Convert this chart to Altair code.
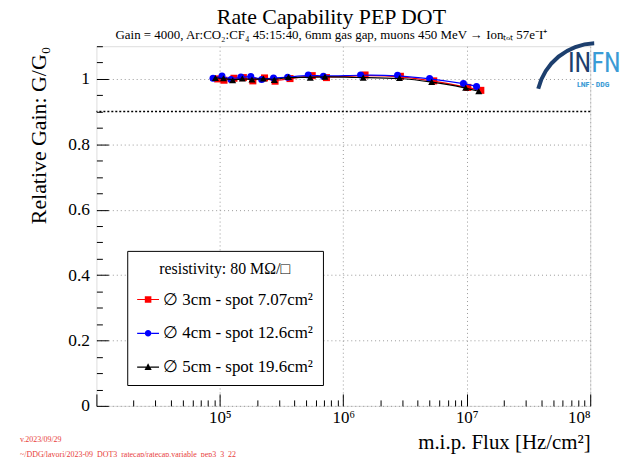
import altair as alt
import pandas as pd

# ---------------- data ----------------
SERIES = ["∅ 3cm - spot 7.07cm²", "∅ 4cm - spot 12.6cm²", "∅ 5cm - spot 19.6cm²"]
COLORS = ["#ff0000", "#0000ff", "#000000"]
SHAPES = ["square", "circle", "triangle-up"]

FLUX_3CM = [9.6e4, 1.08e5, 1.30e5, 1.55e5, 1.85e5, 2.30e5, 2.80e5, 3.70e5, 5.6e5, 7.3e5, 1.50e6, 2.90e6, 5.4e6, 1.02e7, 1.30e7]
GAIN_3CM = [1.000, 0.996, 1.002, 1.004, 0.994, 1.003, 0.993, 1.001, 1.010, 1.004, 1.012, 1.008, 0.994, 0.974, 0.965]

FLUX_4CM = [8.8e4, 1.04e5, 1.23e5, 1.48e5, 1.78e5, 2.18e5, 2.72e5, 3.54e5, 5.2e5, 6.9e5, 1.38e6, 2.75e6, 5.0e6, 9.4e6, 1.20e7]
GAIN_4CM = [1.002, 1.009, 0.998, 1.006, 1.007, 0.998, 1.003, 1.005, 1.012, 1.008, 1.012, 1.011, 1.001, 0.986, 0.977]

FLUX_5CM = [9.2e4, 1.07e5, 1.27e5, 1.52e5, 1.82e5, 2.25e5, 2.76e5, 3.60e5, 5.4e5, 7.1e5, 1.45e6, 2.85e6, 5.2e6, 9.8e6, 1.25e7]
GAIN_5CM = [1.003, 1.002, 0.996, 1.001, 0.998, 1.001, 0.997, 1.006, 1.004, 1.007, 1.004, 1.003, 0.991, 0.973, 0.962]

THRESHOLD = [0.9]

X_LABELS = [1e5, 1e6, 1e7, 1e8]
X_TICKS = [m * 10 ** d for d in range(4, 8) for m in range(1, 10)] + [1e8]
Y_LABELS = [0, 0.2, 0.4, 0.6, 0.8, 1.0]
Y_TICKS = [round(i * 0.05, 2) for i in range(0, 23)]

TITLE = "Rate Capability PEP DOT"
SUBTITLE = "Gain = 4000, Ar:CO₂:CF₄ 45:15:40, 6mm gas gap, muons 450 MeV → Ionₜₒₜ 57e⁻I⁺"
X_TITLE = "m.i.p. Flux [Hz/cm²]"
Y_TITLE = "Relative Gain: G/G₀"
LEGEND_TITLE = "resistivity: 80 MΩ/□"
NOTE_1 = ["v.2023/09/29"]
NOTE_2 = ["~/DDG/lavori/2023-09_DOT3_ratecap/ratecap.variable_pep3_3_22"]
LOGO_A = ["IN"]
LOGO_B = ["FN"]
LOGO_C = ["LNF - DDG"]

rows = []
for name, fl, gn in zip(SERIES, [FLUX_3CM, FLUX_4CM, FLUX_5CM], [GAIN_3CM, GAIN_4CM, GAIN_5CM]):
    for f, g in zip(fl, gn):
        rows.append({"series": name, "flux": f, "gain": g})
df = pd.DataFrame(rows)

FONT = "Liberation Serif"
NARROW = "Liberation Sans Narrow, Roboto Condensed, Roboto"
W, H = 497, 362

x_scale = alt.Scale(type="log", domain=[1e4, 1e8], nice=False)
y_scale = alt.Scale(domain=[0, 1.1], nice=False, zero=False)

sup = "['⁰','¹','²','³','⁴','⁵','⁶','⁷','⁸','⁹'][round(log(datum.value)/LN10)]"

x_label_axis = alt.Axis(
    orient="bottom", values=X_LABELS, labelExpr="'10' + " + sup,
    ticks=False, tickSize=0, domain=False, grid=True, gridDash=[1, 3], gridColor="#999999",
    labelFontSize=17, labelPadding=4, labelColor="black", labelFont=FONT,
    title=X_TITLE, titleAnchor="end", titleFontSize=21, titleFontWeight="normal",
    titleFont=FONT, titleColor="black", titlePadding=6,
)
x_tick_axis = alt.Axis(
    orient="top", offset=-H, values=X_TICKS, labels=False, domain=False, grid=False,
    tickColor="black", tickWidth=1,
    tickSize={"condition": {"test": "abs(log(datum.value)/LN10 - round(log(datum.value)/LN10)) < 0.001", "value": 12}, "value": 6},
    title=None,
)
y_label_axis = alt.Axis(
    orient="left", values=Y_LABELS, format="~g",
    ticks=False, tickSize=0, domain=False, grid=True, gridDash=[1, 3], gridColor="#999999",
    labelFontSize=17.5, labelPadding=7, labelColor="black", labelFont=FONT,
    title=Y_TITLE, titleAnchor="end", titleFontSize=22, titleFontWeight="normal",
    titleFont=FONT, titleColor="black", titlePadding=17,
)
y_tick_axis = alt.Axis(
    orient="right", offset=-W, values=Y_TICKS, labels=False, domain=False, grid=False,
    tickColor="black", tickWidth=1,
    tickSize={"condition": {"test": "abs(datum.value*5 - round(datum.value*5)) < 0.001", "value": 12}, "value": 6},
    title=None,
)

# legend symbols: short line with the marker in the middle
PATHS = [
    "M-1,-0.05H-0.3V0.05H-1Z M0.3,-0.05H1V0.05H0.3Z M-0.3,-0.3H0.3V0.3H-0.3Z",
    "M-1,-0.05H-0.3V0.05H-1Z M0.3,-0.05H1V0.05H0.3Z M0.3,0A0.3,0.3,0,1,1,-0.3,0A0.3,0.3,0,1,1,0.3,0Z",
    "M-1,-0.05H-0.19V0.05H-1Z M0.19,-0.05H1V0.05H0.19Z M0,-0.36L0.33,0.26H-0.33Z",
]

legend = alt.Legend(
    title=LEGEND_TITLE, orient="none", legendX=31, legendY=206, direction="vertical",
    padding=10, titlePadding=12, rowPadding=15, symbolSize=484, labelOffset=4,
    labelFontSize=17, labelFont=FONT, labelColor="black", labelLimit=400,
    titleFontSize=16, titleFont=FONT, titleFontWeight="normal", titleColor="black",
    titleAnchor="middle", strokeColor="black", fillColor="white",
    symbolOpacity=1, symbolStrokeWidth=0,
)

base = alt.Chart(df)
layers = []
for i, (name, color, shape) in enumerate(zip(SERIES, COLORS, SHAPES)):
    sub = base.transform_filter(alt.datum.series == name)
    line = sub.mark_line(strokeWidth=1.2, color=color, interpolate="basis").encode(
        x=alt.X("flux:Q", scale=x_scale, axis=x_label_axis if i == 0 else None),
        y=alt.Y("gain:Q", scale=y_scale, axis=y_label_axis if i == 0 else None),
        order="flux:Q",
    )
    pts = sub.mark_point(filled=True, size=50, opacity=1, shape=shape, color=color).encode(
        x=alt.X("flux:Q", scale=x_scale, axis=x_tick_axis if i == 0 else None),
        y=alt.Y("gain:Q", scale=y_scale, axis=y_tick_axis if i == 0 else None),
    )
    layers += [line, pts]

legend_layer = alt.Chart(pd.DataFrame({"series": SERIES})).mark_point(
    filled=True, opacity=0
).encode(
    color=alt.Color("series:N", scale=alt.Scale(domain=SERIES, range=COLORS), legend=legend),
    shape=alt.Shape("series:N", scale=alt.Scale(domain=SERIES, range=PATHS), legend=legend),
)

thr = alt.Chart(pd.DataFrame({"t": THRESHOLD})).mark_rule(
    color="black", strokeDash=[2, 2], strokeWidth=1.5
).encode(y=alt.Y("t:Q", scale=y_scale, axis=None))

note1 = alt.Chart(pd.DataFrame({"t": NOTE_1})).mark_text(
    align="left", baseline="middle", fontSize=8, color="#e8403a", font=FONT
).encode(x=alt.value(-77), y=alt.value(396), text="t:N")
note2 = alt.Chart(pd.DataFrame({"t": NOTE_2})).mark_text(
    align="left", baseline="middle", fontSize=8, color="#e8403a", font=FONT
).encode(x=alt.value(-77), y=alt.value(411), text="t:N")

# logo (decoration)
swoosh = alt.Chart(pd.DataFrame({"t": [1]})).mark_arc(
    theta=4.95, theta2=6.25, innerRadius=58, outerRadius=62, color="#1d3f6e"
).encode(x=alt.value(503), y=alt.value(57))
logo_a = alt.Chart(pd.DataFrame({"t": LOGO_A})).mark_text(
    align="right", baseline="middle", fontSize=27, color="#1d3f6e", font=NARROW
).encode(x=alt.value(498), y=alt.value(18), text="t:N")
logo_b = alt.Chart(pd.DataFrame({"t": LOGO_B})).mark_text(
    align="left", baseline="middle", fontSize=27, color="#3a9bd5", font=NARROW
).encode(x=alt.value(498), y=alt.value(18), text="t:N")
logo_c = alt.Chart(pd.DataFrame({"t": LOGO_C})).mark_text(
    align="center", baseline="middle", fontSize=8, color="#3a9bd5", font=NARROW, fontWeight="bold"
).encode(x=alt.value(500), y=alt.value(39), text="t:N")

chart = alt.layer(thr, *layers, legend_layer, note1, note2, swoosh, logo_a, logo_b, logo_c).properties(
    width=W, height=H,
    title=alt.TitleParams(
        text=TITLE, subtitle=SUBTITLE, font=FONT, subtitleFont=FONT,
        fontSize=22, subtitleFontSize=13, fontWeight="normal", color="black",
        subtitleColor="black", anchor="middle", offset=-2, subtitlePadding=0, dx=-12,
    ),
    autosize=alt.AutoSizeParams(type="none"),
    padding={"left": 89, "top": 37, "right": 33, "bottom": 50},
).configure_view(stroke="black", strokeWidth=1).configure(font=FONT, background="white")

chart.save("out.html", embed_options={"renderer": "svg", "actions": False})
